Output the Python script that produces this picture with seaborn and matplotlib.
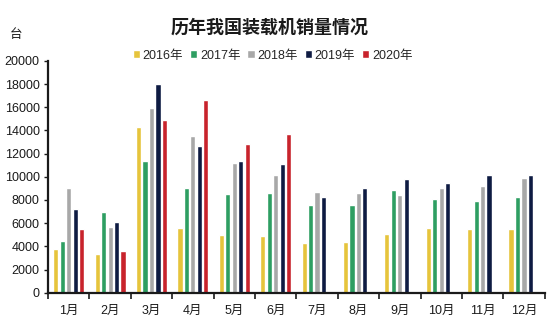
import matplotlib
matplotlib.use("Agg")
import matplotlib.pyplot as plt
import numpy as np
import pandas as pd
import seaborn as sns
from matplotlib.ticker import FixedLocator, NullFormatter

months = ["1月", "2月", "3月", "4月", "5月", "6月", "7月", "8月", "9月", "10月", "11月", "12月"]
years = ["2016年", "2017年", "2018年", "2019年", "2020年"]

sales_2016 = [3800, 3300, 14300, 5600, 5000, 4900, 4300, 4400, 5100, 5600, 5500, 5500]
sales_2017 = [4500, 7000, 11400, 9000, 8500, 8600, 7600, 7600, 8900, 8100, 7900, 8300]
sales_2018 = [9000, 5700, 15900, 13500, 11200, 10200, 8700, 8600, 8400, 9000, 9200, 9900]
sales_2019 = [7200, 6100, 18000, 12700, 11400, 11100, 8300, 9000, 9800, 9500, 10200, 10200]
sales_2020 = [5500, 3600, 14900, 16600, 12800, 13700]

colors = ["#E6C43C", "#2E9E62", "#A8A8A8", "#0E1B42", "#C8232C"]

series = [sales_2016, sales_2017, sales_2018, sales_2019, sales_2020]
rows = []
for year, vals in zip(years, series):
    for m, v in zip(months, vals):
        rows.append({"月份": m, "年份": year, "销量": v})
df = pd.DataFrame(rows)

sns.set_theme(style="white")
plt.rcParams["font.family"] = ["Liberation Sans", "Noto Sans CJK SC", "DejaVu Sans"]

fig = plt.figure(figsize=(5.5, 3.32), dpi=100)
ax = fig.add_axes([0.0873, 0.1184, 0.903, 0.698])

sns.barplot(data=df, x="月份", y="销量", hue="年份", order=months, hue_order=years,
            palette=colors, width=0.78, gap=0.2, saturation=1, ax=ax, legend=True)

ax.set_ylim(0, 20000)
ax.set_xlim(-0.5, len(months) - 0.5)
ax.set_yticks(np.arange(0, 20001, 2000))
ax.set_xlabel("")
ax.set_ylabel("")

for side in ["top", "right"]:
    ax.spines[side].set_visible(False)
for side in ["left", "bottom"]:
    ax.spines[side].set_color("#1a1a1a")
    ax.spines[side].set_linewidth(1.6)

ax.tick_params(axis="y", which="major", direction="out", length=3, width=1,
               color="#1a1a1a", labelsize=9, pad=3, left=True, labelcolor="#1a1a1a")
ax.tick_params(axis="x", which="major", length=0, labelsize=9, pad=9, labelcolor="#1a1a1a")
ax.xaxis.set_minor_locator(FixedLocator(np.arange(-0.5, len(months), 1.0)))
ax.xaxis.set_minor_formatter(NullFormatter())
ax.tick_params(axis="x", which="minor", direction="out", length=4, width=1.2,
               color="#1a1a1a", bottom=True)

handles, labels = ax.get_legend_handles_labels()
ax.legend(handles, labels, ncol=5, frameon=False, loc="center",
          bbox_to_anchor=(0.452, 1.022), fontsize=9, handlelength=0.6, handleheight=0.6,
          handletextpad=0.2, columnspacing=0.55, borderaxespad=0)

fig.text(0.49, 0.918, "历年我国装载机销量情况", ha="center", va="center",
         fontsize=13, fontweight="bold", color="#1a1a1a",
         family=["Noto Sans CJK SC", "DejaVu Sans"])
fig.text(0.018, 0.897, "台", ha="left", va="center", fontsize=9, color="#1a1a1a",
         family=["Noto Sans CJK SC", "DejaVu Sans"])

fig.savefig("out.png", dpi=100, facecolor="white")
